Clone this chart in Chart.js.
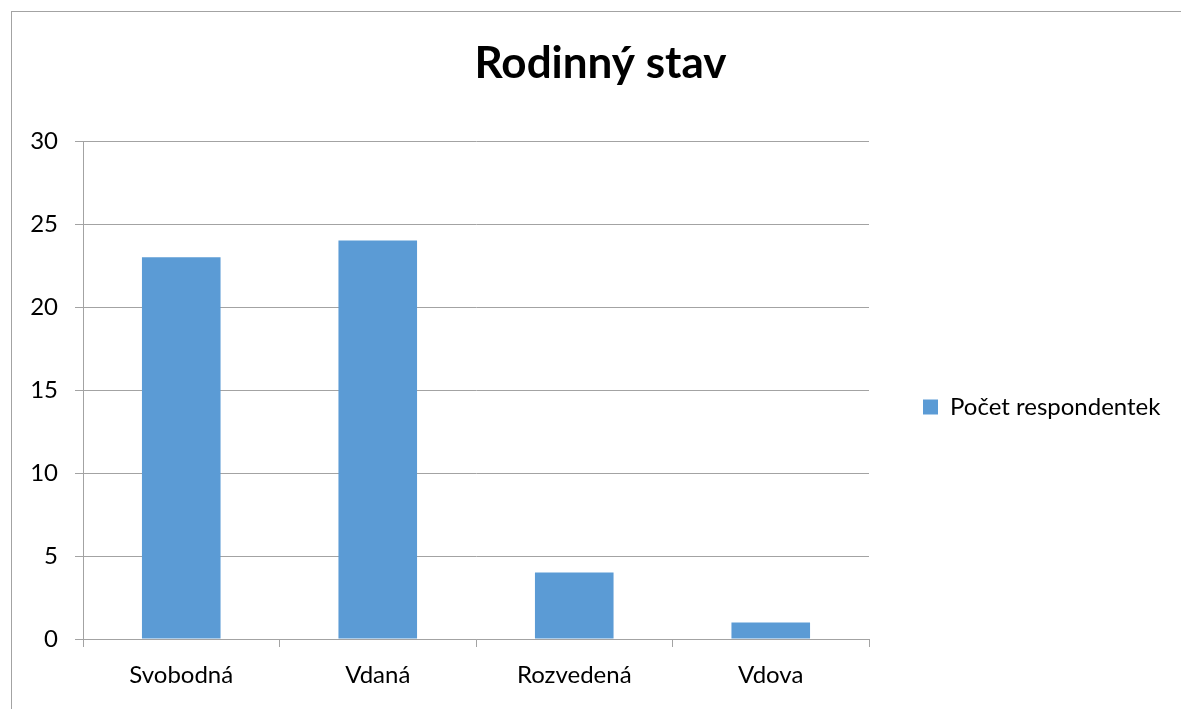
<!DOCTYPE html>
<html lang="cs">
<head>
<meta charset="utf-8">
<title>Rodinný stav</title>
<script src="https://cdn.jsdelivr.net/npm/chart.js@4.4.1/dist/chart.umd.min.js"></script>
<style>
    html, body { margin: 0; padding: 0; background: #fff; overflow: hidden; }
    .frame {
        position: absolute; left: 11px; top: 11px; width: 2000px; height: 2000px;
        border-left: 1px solid #a3a3a3; border-top: 1px solid #a3a3a3;
    }
    .wrap { position: absolute; left: 0; top: 0; width: 1181px; height: 709px; }
</style>
</head>
<body>
<div class="frame"></div>
<div class="wrap"><canvas id="stavChart" width="1181" height="709"></canvas></div>
<script>
/* Rodinný stav respondentek – sloupcový graf. */
const categories = ['Svobodná', 'Vdaná', 'Rozvedená', 'Vdova'];
const respondentky = [23, 24, 4, 1];
const seriesName = 'Počet respondentek';
const yTicks = [0, 5, 10, 15, 20, 25, 30];

(function () {
    const ctx = document.getElementById('stavChart');
    if (!ctx) return;

    const lineGrey = '#a3a3a3';
    const font = 'Lato, "Open Sans", sans-serif';

    // legend column on the right: fixed width, item sits a bit below centre
    const legendSlot = {
        id: 'legendSlot',
        beforeInit(chart) {
            const fit = chart.legend.fit;
            chart.legend.fit = function () {
                fit.call(this);
                this.width = 312;
            };
        },
        afterLayout(chart) {
            chart.legend.top += 17;
            chart.legend.bottom += 17;
        },
    };

    new Chart(ctx, {
        type: 'bar',
        data: {
            labels: categories,
            datasets: [
                {
                    label: seriesName,
                    data: respondentky,
                    backgroundColor: '#5b9bd5',
                    categoryPercentage: 1,
                    barPercentage: 0.4,
                },
            ],
        },
        plugins: [legendSlot],
        options: {
            responsive: false,
            animation: false,
            layout: { padding: { left: 20, right: 0, top: 0, bottom: 0 } },
            plugins: {
                title: {
                    display: true,
                    text: 'Rodinný stav',
                    color: '#000',
                    font: { family: font, size: 44, weight: 'bold', lineHeight: 1.2 },
                    padding: { top: 37, bottom: 51.2 },
                },
                legend: {
                    position: 'right',
                    fullSize: false,
                    labels: {
                        color: '#000',
                        font: { family: font, size: 24 },
                        boxWidth: 15,
                        boxHeight: 15,
                        padding: 54,
                    },
                },
                tooltip: { enabled: false },
            },
            scales: {
                x: {
                    offset: true,
                    grid: { display: true, offset: true, drawOnChartArea: false, color: lineGrey, tickLength: 8 },
                    border: { color: lineGrey },
                    ticks: { color: '#000', font: { family: font, size: 24 }, padding: 14, maxRotation: 0 },
                    afterFit(scale) { scale.height = 70; },
                },
                y: {
                    min: 0,
                    max: 30,
                    afterBuildTicks(scale) { scale.ticks = yTicks.map(v => ({ value: v })); },
                    grid: { color: lineGrey, tickLength: 8 },
                    border: { color: lineGrey },
                    ticks: { color: '#000', font: { family: font, size: 24 }, padding: 17 },
                    afterFit(scale) { scale.width = 63; },
                },
            },
        },
    });
})();
</script>
</body>
</html>
